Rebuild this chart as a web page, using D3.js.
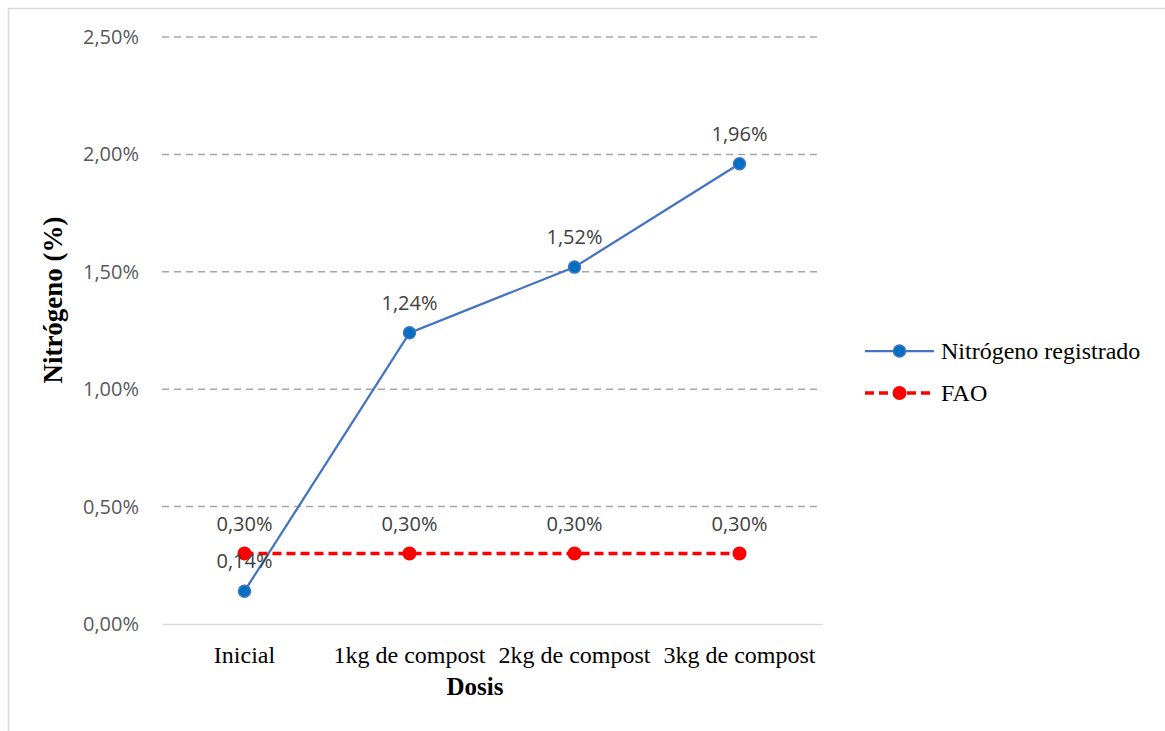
<!DOCTYPE html>
<html>
<head>
<meta charset="utf-8">
<script src="https://cdn.jsdelivr.net/npm/d3@7/dist/d3.min.js"></script>
<style>
  html, body { margin: 0; padding: 0; background: #fff; }
  svg { display: block; }
</style>
</head>
<body>
<svg id="chart" width="1165" height="731"></svg>
<script>
// Nitrogen content by compost dose, compared with the FAO reference level
const categories = ["Inicial", "1kg de compost", "2kg de compost", "3kg de compost"];
const nitrogenValues = [0.14, 1.24, 1.52, 1.96];
const faoValues = [0.30, 0.30, 0.30, 0.30];
const yTicks = [0, 0.5, 1.0, 1.5, 2.0, 2.5];
const seriesNames = ["Nitrógeno registrado", "FAO"];

const fmt = v => v.toFixed(2).replace(".", ",") + "%";

const svg = d3.select("#chart");
const plot = { left: 162, right: 822, top: 37, bottom: 624 };
const serif = "'Liberation Serif', 'Times New Roman', serif";
const sans = "'Open Sans', 'Noto Sans', sans-serif";

// Outer chart border
svg.append("rect")
  .attr("x", 8.5).attr("y", 8.5)
  .attr("width", 1180).attr("height", 740)
  .attr("fill", "none").attr("stroke", "#D9D9D9").attr("stroke-width", 1.5);

const x = d3.scaleBand().domain(categories).range([plot.left, plot.right]);
const y = d3.scaleLinear().domain([0, 2.5]).range([plot.bottom, plot.top]);

// Horizontal gridlines (dashed), baseline solid
const grid = svg.append("g");
grid.selectAll("line").data(yTicks.filter(t => t > 0)).join("line")
  .attr("x1", plot.left).attr("x2", plot.right)
  .attr("y1", d => y(d)).attr("y2", d => y(d))
  .attr("stroke", "#A6A6A6").attr("stroke-width", 1.5)
  .attr("stroke-dasharray", "7,5");

const xAxis = svg.append("g")
  .attr("transform", `translate(0,${plot.bottom})`)
  .call(d3.axisBottom(x).tickSize(0).tickPadding(22));
xAxis.select(".domain").attr("stroke", "#D9D9D9").attr("stroke-width", 1.5);
xAxis.selectAll("text")
  .attr("font-family", serif)
  .attr("font-size", 24).attr("fill", "#000");

const yAxis = svg.append("g")
  .attr("transform", `translate(${plot.left},0)`)
  .call(d3.axisLeft(y).tickValues(yTicks).tickFormat(fmt).tickSize(0).tickPadding(23));
yAxis.select(".domain").remove();
yAxis.selectAll("text")
  .attr("font-family", sans)
  .attr("font-size", 20).attr("fill", "#595959");

// Axis titles
svg.append("text")
  .attr("x", 475).attr("y", 695)
  .attr("text-anchor", "middle")
  .attr("font-family", serif)
  .attr("font-weight", "bold").attr("font-size", 25).attr("fill", "#000")
  .text("Dosis");
svg.append("text")
  .attr("transform", "translate(62,300) rotate(-90)")
  .attr("text-anchor", "middle")
  .attr("font-family", serif)
  .attr("font-weight", "bold").attr("font-size", 27).attr("fill", "#000")
  .text("Nitrógeno (%)");

const cx = c => x(c) + x.bandwidth() / 2;
const line = d3.line().x(d => cx(d.c)).y(d => y(d.v));

const faoData = categories.map((c, i) => ({ c, v: faoValues[i] }));
const nData = categories.map((c, i) => ({ c, v: nitrogenValues[i] }));

// FAO reference series
svg.append("path").datum(faoData)
  .attr("d", line).attr("fill", "none")
  .attr("stroke", "#FF0000").attr("stroke-width", 3.5)
  .attr("stroke-dasharray", "9,5");
svg.append("g").selectAll("circle").data(faoData).join("circle")
  .attr("cx", d => cx(d.c)).attr("cy", d => y(d.v)).attr("r", 7)
  .attr("fill", "#FF0000");

// Measured nitrogen series
svg.append("path").datum(nData)
  .attr("d", line).attr("fill", "none")
  .attr("stroke", "#4472C4").attr("stroke-width", 2.25);
svg.append("g").selectAll("circle").data(nData).join("circle")
  .attr("cx", d => cx(d.c)).attr("cy", d => y(d.v)).attr("r", 6)
  .attr("fill", "#0070C0").attr("stroke", "#4472C4").attr("stroke-width", 1.5);

// Data labels
svg.append("g").selectAll("text").data(faoData).join("text")
  .attr("x", d => cx(d.c)).attr("y", d => y(d.v) - 23)
  .attr("text-anchor", "middle")
  .attr("font-family", sans).attr("font-size", 20).attr("fill", "#404040")
  .text(d => fmt(d.v));
svg.append("g").selectAll("text").data(nData).join("text")
  .attr("x", d => cx(d.c)).attr("y", d => y(d.v) - 23)
  .attr("text-anchor", "middle")
  .attr("font-family", sans).attr("font-size", 20).attr("fill", "#404040")
  .text(d => fmt(d.v));

// Legend
const legend = svg.append("g");
const legendItems = [
  { name: seriesNames[0], y: 351, stroke: "#4472C4", width: 2.25, dash: null, r: 6, fill: "#0070C0", ring: true },
  { name: seriesNames[1], y: 393, stroke: "#FF0000", width: 3.5, dash: "9,5", r: 7, fill: "#FF0000", ring: false }
];
legendItems.forEach(it => {
  legend.append("line")
    .attr("x1", 865).attr("x2", 934).attr("y1", it.y).attr("y2", it.y)
    .attr("stroke", it.stroke).attr("stroke-width", it.width)
    .attr("stroke-dasharray", it.dash);
  legend.append("circle")
    .attr("cx", 899.5).attr("cy", it.y).attr("r", it.r)
    .attr("fill", it.fill)
    .attr("stroke", it.ring ? it.stroke : "none")
    .attr("stroke-width", 1.5);
  legend.append("text")
    .attr("x", 941).attr("y", it.y + 8)
    .attr("font-family", serif)
    .attr("font-size", 24).attr("fill", "#000")
    .text(it.name);
});
</script>
</body>
</html>
